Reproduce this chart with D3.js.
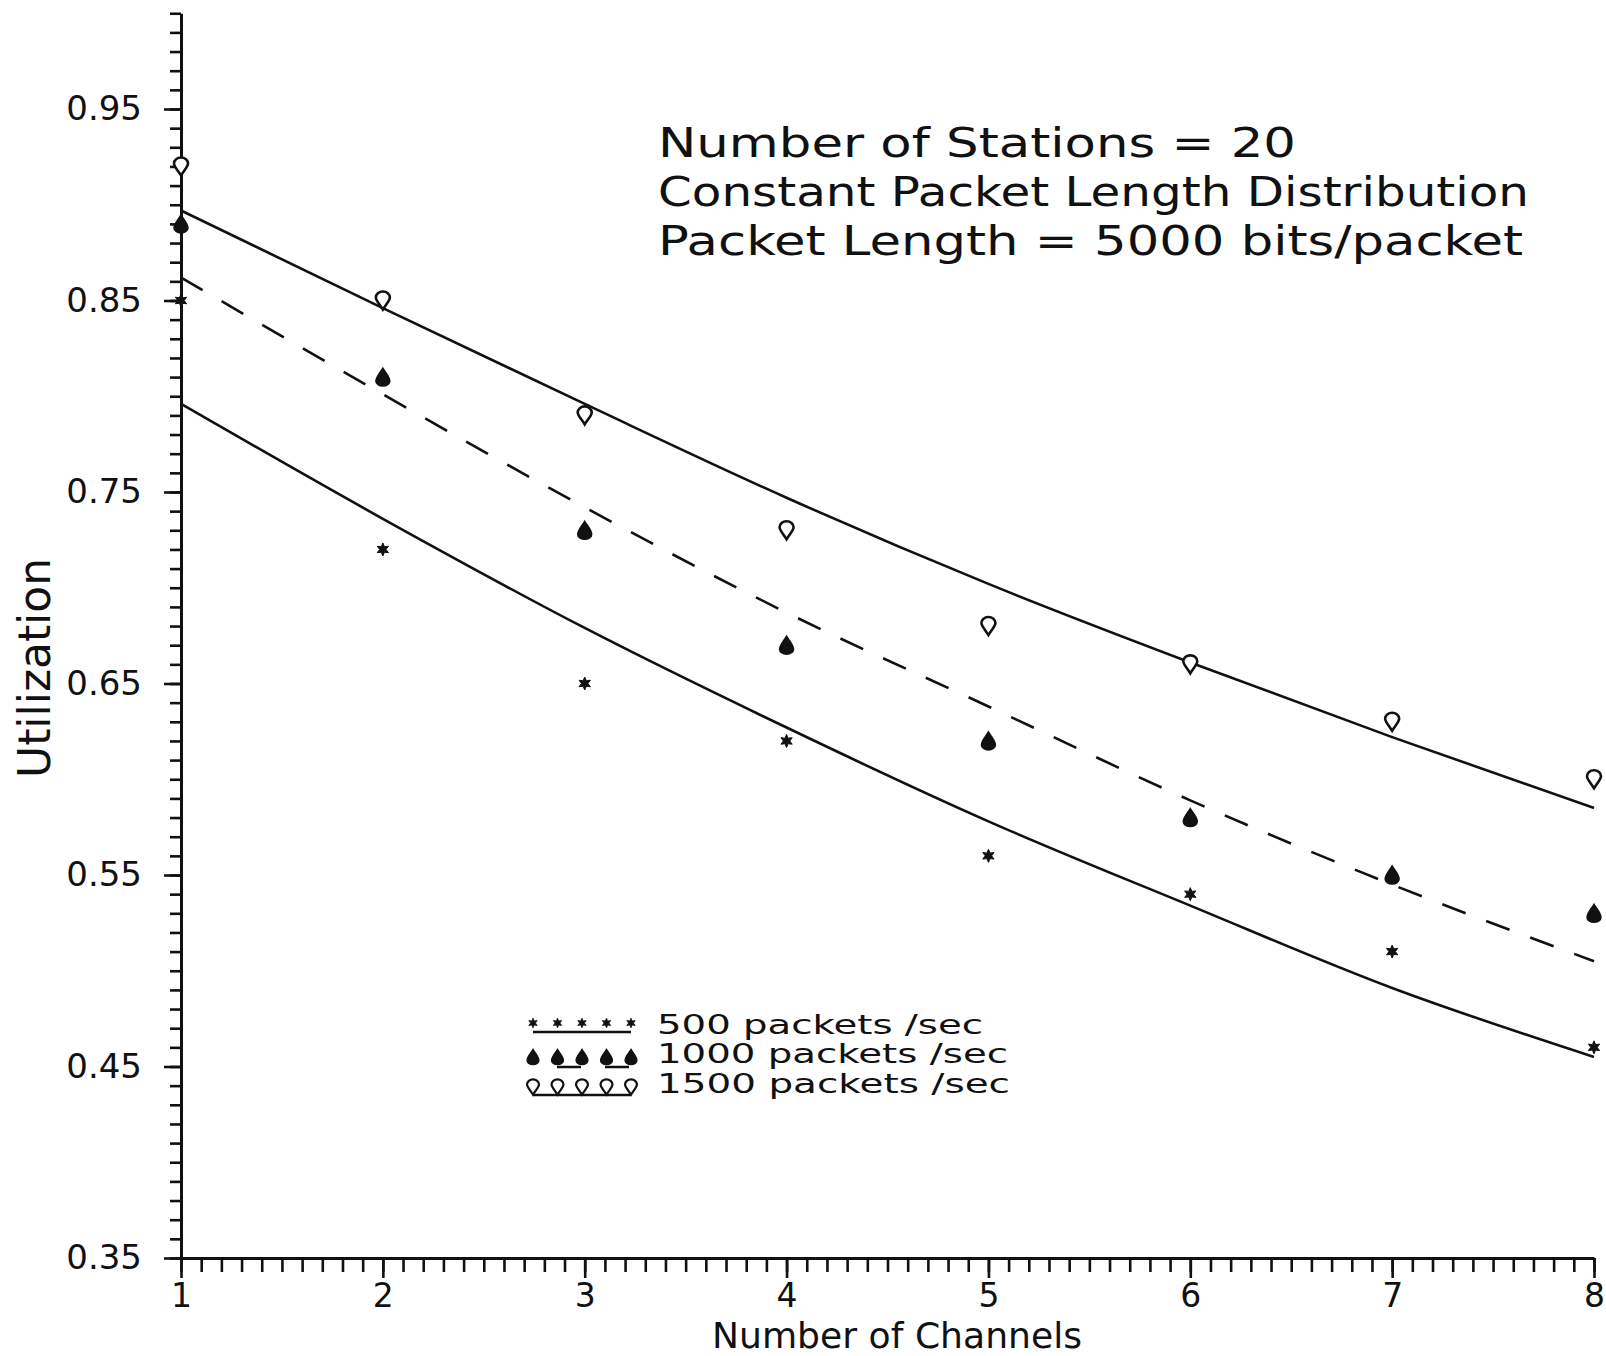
<!doctype html>
<html>
<head>
<meta charset="utf-8">
<style>
  body { margin: 0; background: #fff; }
  text { font-family: "DejaVu Sans", sans-serif; fill: #111; }
  .axis path, .axis line { stroke: #111; }
</style>
<script src="https://d3js.org/d3.v7.min.js"></script>
</head>
<body>
<svg width="1606" height="1356"></svg>
<script>
// data
var channels = [1, 2, 3, 4, 5, 6, 7, 8];
var pts500  = [0.85, 0.72, 0.65, 0.62, 0.56, 0.54, 0.51, 0.46];
var pts1000 = [0.89, 0.81, 0.73, 0.67, 0.62, 0.58, 0.55, 0.53];
var pts1500 = [0.92, 0.85, 0.79, 0.73, 0.68, 0.66, 0.63, 0.60];
// fitted curves
var fit500  = [0.796, 0.736, 0.679, 0.627, 0.578, 0.534, 0.491, 0.455];
var fit1000 = [0.862, 0.801, 0.742, 0.687, 0.638, 0.589, 0.545, 0.505];
var fit1500 = [0.897, 0.846, 0.796, 0.747, 0.702, 0.661, 0.622, 0.585];
var yTickLabels = [0.35, 0.45, 0.55, 0.65, 0.75, 0.85, 0.95];
var xTickLabels = [1, 2, 3, 4, 5, 6, 7, 8];
var legendLabels = ["500  packets  /sec", "1000  packets  /sec", "1500  packets  /sec"];
var noteLines = ["Number  of  Stations  =  20",
                 "Constant  Packet  Length  Distribution",
                 "Packet  Length  =  5000  bits/packet"];

var svg = d3.select("svg");
svg.append("rect").attr("width", 1606).attr("height", 1356).attr("fill", "#fff");

var x = d3.scaleLinear().domain([1, 8]).range([181, 1594]);
var y = d3.scaleLinear().domain([0.35, 1.0]).range([1258, 13.25]);

// marker shapes
var starPath = (function() {
  var p = [];
  for (var k = 0; k < 12; k++) {
    var r = k % 2 == 0 ? 6.5 : 3.2, a = Math.PI * k / 6 - Math.PI / 2;
    p.push((k == 0 ? "M" : "L") + (r * Math.cos(a)).toFixed(2) + "," + (r * Math.sin(a)).toFixed(2));
  }
  return p.join("") + "Z";
})();
var dropPath = "M0,-9 C3,-4 7,0 7,4 A7,5 0 0 1 -7,4 C-7,0 -3,-4 0,-9Z";
var balloonPath = "M0,9 C-3,4 -7,0 -7,-3 A7,6 0 0 1 7,-3 C7,0 3,4 0,9Z";

function drawMarker(sel, kind) {
  if (kind == 0) {
    sel.attr("d", starPath).attr("fill", "#111").attr("stroke", "#111").attr("stroke-width", 1);
  } else if (kind == 1) {
    sel.attr("d", dropPath).attr("fill", "#111").attr("stroke", "#111").attr("stroke-width", 1.5);
  } else {
    sel.attr("d", balloonPath).attr("fill", "#fff").attr("stroke", "#111").attr("stroke-width", 2.6);
  }
}

// y axis: minor ticks every 0.01, major at labels
var yMinor = d3.range(35, 101).map(function(d) { return d / 100; });
svg.append("g").attr("class", "axis")
   .attr("transform", "translate(181,0)")
   .call(d3.axisLeft(y).tickValues(yMinor).tickSize(11).tickSizeOuter(0).tickFormat(""))
   .call(function(g) { g.selectAll("line").attr("stroke-width", 2.6); g.select(".domain").attr("stroke-width", 3); });

svg.append("g").attr("class", "axis")
   .attr("transform", "translate(181,0)")
   .call(d3.axisLeft(y).tickValues(yTickLabels).tickSize(17).tickPadding(22).tickSizeOuter(0)
         .tickFormat(d3.format(".2f")))
   .call(function(g) {
     g.select(".domain").remove();
     g.selectAll("line").attr("stroke-width", 2.6);
     g.selectAll("text").attr("font-size", 34).attr("fill", "#111")
      .attr("font-family", "DejaVu Sans, sans-serif");
   });

// x axis: minor ticks every 0.1
var xMinor = d3.range(10, 81).map(function(d) { return d / 10; });
svg.append("g").attr("class", "axis")
   .attr("transform", "translate(0,1258)")
   .call(d3.axisBottom(x).tickValues(xMinor).tickSize(14).tickSizeOuter(0).tickFormat(""))
   .call(function(g) { g.selectAll("line").attr("stroke-width", 2.6); g.select(".domain").attr("stroke-width", 3); });

svg.append("g").attr("class", "axis")
   .attr("transform", "translate(0,1258)")
   .call(d3.axisBottom(x).tickValues(xTickLabels).tickSize(20).tickPadding(6).tickSizeOuter(0)
         .tickFormat(d3.format("d")))
   .call(function(g) {
     g.select(".domain").remove();
     g.selectAll("line").attr("stroke-width", 2.6);
     g.selectAll("text").attr("font-size", 33).attr("fill", "#111")
      .attr("font-family", "DejaVu Sans, sans-serif");
   });

// axis titles
svg.append("text")
   .attr("x", 712).attr("y", 1348)
   .attr("font-size", 36)
   .attr("textLength", 370).attr("lengthAdjust", "spacingAndGlyphs")
   .text("Number  of  Channels");

svg.append("text")
   .attr("transform", "translate(50,778) rotate(-90)")
   .attr("font-size", 45)
   .attr("textLength", 220).attr("lengthAdjust", "spacingAndGlyphs")
   .text("Utilization");

// note block
var noteWidths = [638, 871, 865];
var noteY = [157, 206, 255];
noteLines.forEach(function(t, i) {
  svg.append("text")
     .attr("x", 658).attr("y", noteY[i])
     .attr("font-size", 41)
     .attr("textLength", noteWidths[i]).attr("lengthAdjust", "spacingAndGlyphs")
     .text(t);
});

// curves
var line = d3.line()
  .x(function(d) { return x(d[0]); })
  .y(function(d) { return y(d[1]); })
  .curve(d3.curveMonotoneX);

var fits = [fit500, fit1000, fit1500];
fits.forEach(function(f, i) {
  svg.append("path")
     .datum(channels.map(function(c, j) { return [c, f[j]]; }))
     .attr("d", line)
     .attr("fill", "none")
     .attr("stroke", "#111")
     .attr("stroke-width", 2.6)
     .attr("stroke-dasharray", i == 1 ? "25,22" : null);
});

// points
var series = [pts500, pts1000, pts1500];
series.forEach(function(s, i) {
  svg.append("g").selectAll("path")
     .data(s)
     .enter().append("path")
     .attr("transform", function(d, j) { return "translate(" + x(channels[j]) + "," + y(d) + ")"; })
     .call(drawMarker, i);
});

// legend
var legX = 533, legStep = 24.5, legRowY = [1023, 1057, 1087], legLineY = [1032, 1067, 1095];
var legTextY = [1034, 1063, 1093], legTextW = [326, 351, 353];
legendLabels.forEach(function(lab, i) {
  svg.append("line")
     .attr("x1", legX).attr("x2", legX + legStep * 4)
     .attr("y1", legLineY[i]).attr("y2", legLineY[i])
     .attr("stroke", "#111").attr("stroke-width", 2.4)
     .attr("stroke-dasharray", i == 1 ? "24,24" : null)
     .attr("stroke-dashoffset", i == 1 ? 24 : null);
  svg.append("g").selectAll("path")
     .data(d3.range(5))
     .enter().append("path")
     .attr("transform", function(k) { return "translate(" + (legX + legStep * k) + "," + legRowY[i] + ") scale(" + (i == 0 ? 0.75 : 0.85) + ")"; })
     .call(drawMarker, i);
  svg.append("text")
     .attr("x", 657).attr("y", legTextY[i])
     .attr("font-size", 26)
     .attr("textLength", legTextW[i]).attr("lengthAdjust", "spacingAndGlyphs")
     .text(lab);
});
</script>
</body>
</html>
